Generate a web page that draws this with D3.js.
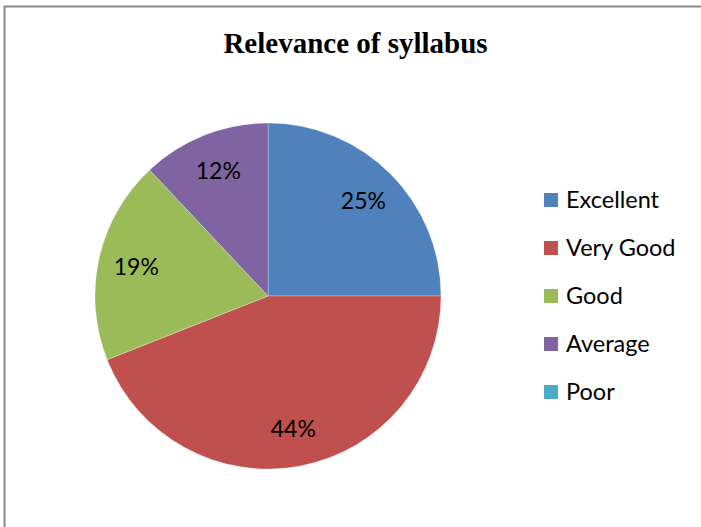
<!DOCTYPE html>
<html>
<head>
<meta charset="utf-8">
<script src="https://cdn.jsdelivr.net/npm/d3@7"></script>
<style>
  body { margin: 0; background: #fff; }
</style>
</head>
<body>
<svg width="701" height="527"></svg>
<script>
// data for the pie
const categories = ["Excellent", "Very Good", "Good", "Average", "Poor"];
const percentages = [25, 44, 19, 12, 0];
const colors = ["#4F81BD", "#C0504D", "#9BBB59", "#8064A2", "#4BACC6"];

const svg = d3.select("svg");
const width = +svg.attr("width");
const height = +svg.attr("height");

// frame of the chart area (only top and left edges are visible)
svg.append("line")
  .attr("x1", 4.5).attr("y1", 6).attr("x2", 4.5).attr("y2", height)
  .attr("stroke", "#888").attr("stroke-width", 2);
svg.append("line")
  .attr("x1", 4).attr("y1", 6.5).attr("x2", width).attr("y2", 6.5)
  .attr("stroke", "#888").attr("stroke-width", 2);

// title
svg.append("text")
  .attr("x", 355.5)
  .attr("y", 53)
  .attr("text-anchor", "middle")
  .style("font-family", "'Liberation Serif', 'Times New Roman', serif")
  .style("font-weight", "bold")
  .style("font-size", "29px")
  .text("Relevance of syllabus");

const data = categories.map((c, i) => ({ category: c, value: percentages[i] }));

const radius = 173;
const color = d3.scaleOrdinal().domain(categories).range(colors);

const pie = d3.pie().sort(null).value((d) => d.value);
const arc = d3.arc().innerRadius(0).outerRadius(radius);
const labelArc = d3.arc().innerRadius(radius * 0.78).outerRadius(radius * 0.78);

const g = svg.append("g").attr("transform", "translate(268,296)");

const arcs = pie(data).filter((d) => d.value > 0);

g.selectAll("path")
  .data(arcs)
  .enter()
  .append("path")
  .attr("d", arc)
  .attr("fill", (d) => color(d.data.category))
  .attr("stroke", "#fff")
  .attr("stroke-width", 0.3);

g.selectAll("text.pct")
  .data(arcs)
  .enter()
  .append("text")
  .attr("class", "pct")
  .attr("transform", (d) => `translate(${labelArc.centroid(d)})`)
  .attr("text-anchor", "middle")
  .attr("dy", "0.35em")
  .style("font-family", "Lato, 'Noto Sans', sans-serif")
  .style("font-size", "23px")
  .text((d) => d.data.value + "%");

// legend
const legendY = d3.scalePoint().domain(categories).range([200, 392]);
const legend = svg.selectAll("g.legend")
  .data(categories)
  .enter()
  .append("g")
  .attr("class", "legend")
  .attr("transform", (d) => `translate(544,${legendY(d)})`);

legend.append("rect")
  .attr("x", 0).attr("y", -7)
  .attr("width", 14).attr("height", 14)
  .attr("fill", (d) => color(d));

legend.append("text")
  .attr("x", 22)
  .attr("dy", "0.36em")
  .style("font-family", "Lato, 'Noto Sans', sans-serif")
  .style("font-size", "23.5px")
  .text((d) => d);
</script>
</body>
</html>
